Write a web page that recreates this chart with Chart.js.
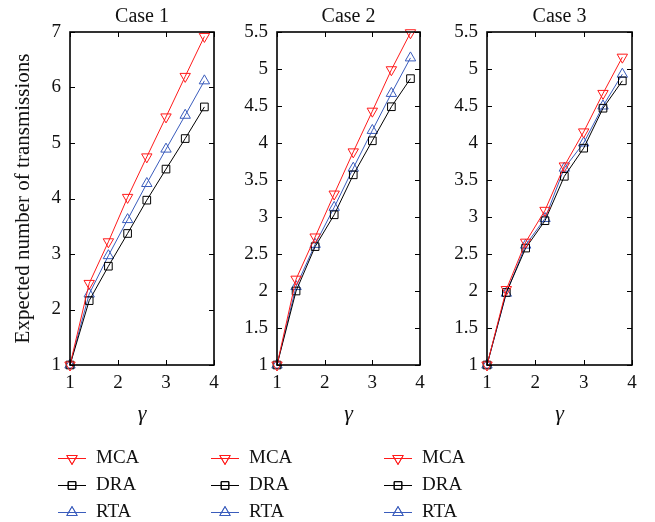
<!DOCTYPE html>
<html>
<head>
<meta charset="utf-8">
<script src="https://cdn.jsdelivr.net/npm/chart.js@4.4.1/dist/chart.umd.min.js"></script>
<style>
  html, body { margin: 0; padding: 0; background: #fff; }
  #wrap { position: relative; width: 655px; height: 522px; }
  #wrap canvas { position: absolute; left: 0; top: 0; }
</style>
</head>
<body>
<div id="wrap">
  <canvas id="c1" width="655" height="522"></canvas>
  <canvas id="c2" width="655" height="522"></canvas>
  <canvas id="c3" width="655" height="522"></canvas>
</div>
<script>
// ---- data ----
const gamma = [1, 1.4, 1.8, 2.2, 2.6, 3.0, 3.4, 3.8];
const seriesNames = ['MCA', 'DRA', 'RTA'];
const panelTitles = ['Case 1', 'Case 2', 'Case 3'];

const case1MCA = [1, 2.47, 3.22, 4.02, 4.75, 5.47, 6.20, 6.92];
const case1DRA = [1, 2.16, 2.78, 3.37, 3.97, 4.53, 5.08, 5.65];
const case1RTA = [1, 2.28, 2.97, 3.62, 4.27, 4.89, 5.50, 6.12];

const case2MCA = [1, 2.16, 2.73, 3.31, 3.88, 4.43, 4.99, 5.49];
const case2DRA = [1, 2.00, 2.60, 3.03, 3.57, 4.03, 4.49, 4.87];
const case2RTA = [1, 2.06, 2.63, 3.13, 3.66, 4.17, 4.67, 5.15];

const case3MCA = [1, 2.02, 2.66, 3.09, 3.69, 4.15, 4.67, 5.16];
const case3DRA = [1, 1.98, 2.58, 2.95, 3.55, 3.93, 4.47, 4.84];
const case3RTA = [1, 1.97, 2.62, 2.98, 3.66, 4.00, 4.50, 4.93];

const xTicks = [1, 2, 3, 4];
const yTicksCase1 = [1, 2, 3, 4, 5, 6, 7];
const yTicksCase23 = [1, 1.5, 2, 2.5, 3, 3.5, 4, 4.5, 5, 5.5];

const yAxisTitle = 'Expected number of transmissions';
const xAxisTitle = 'γ';

// ---- styles ----
const FONT = '"Liberation Serif", "Times New Roman", serif';
const seriesStyle = [
  { color: '#ff1a1a', pointStyle: 'triangle', rotation: 180, radius: 6 },
  { color: '#000000', pointStyle: 'rect', rotation: 0, radius: 5.4 },
  { color: '#3a5cbc', pointStyle: 'triangle', rotation: 0, radius: 6 }
];

function drawMarker(ctx, st, x, y) {
  if (Chart.helpers && Chart.helpers.drawPoint) {
    Chart.helpers.drawPoint(ctx, { pointStyle: st.pointStyle, radius: st.radius, rotation: st.rotation, borderWidth: 1 }, x, y);
    ctx.stroke();
    return;
  }
  ctx.beginPath();
  if (st.pointStyle === 'rect') {
    const s = st.radius * Math.SQRT1_2;
    ctx.rect(x - s, y - s, 2 * s, 2 * s);
  } else {
    let rad = st.rotation * Math.PI / 180;
    for (let i = 0; i < 3; i++) {
      const px = x + Math.sin(rad) * st.radius, py = y - Math.cos(rad) * st.radius;
      if (i === 0) ctx.moveTo(px, py); else ctx.lineTo(px, py);
      rad += 2 * Math.PI / 3;
    }
    ctx.closePath();
  }
  ctx.stroke();
}

const framePlugin = {
  id: 'frame',
  afterDraw(chart, args, opts) {
    const { ctx, chartArea: a, scales } = chart;
    ctx.save();
    ctx.strokeStyle = '#000';
    ctx.lineWidth = 1;
    const tl = 5;
    ctx.beginPath();
    scales.x.ticks.forEach(t => {
      const px = Math.round(scales.x.getPixelForValue(t.value)) + 0.5;
      ctx.moveTo(px, a.bottom); ctx.lineTo(px, a.bottom - tl);
      ctx.moveTo(px, a.top); ctx.lineTo(px, a.top + tl);
    });
    scales.y.ticks.forEach(t => {
      const py = Math.round(scales.y.getPixelForValue(t.value)) + 0.5;
      ctx.moveTo(a.left, py); ctx.lineTo(a.left + tl, py);
      ctx.moveTo(a.right, py); ctx.lineTo(a.right - tl, py);
    });
    ctx.stroke();
    ctx.lineWidth = 1.6;
    ctx.strokeRect(a.left, a.top, a.right - a.left, a.bottom - a.top);

    // panel title
    ctx.fillStyle = '#111';
    ctx.font = '20px ' + FONT;
    ctx.textAlign = 'center';
    ctx.textBaseline = 'middle';
    ctx.fillText(opts.title, (a.left + a.right) / 2, 17);
    ctx.restore();

    // legend
    const lx = opts.x;
    const rows = [458, 485, 512];
    ctx.save();
    ctx.font = '19px ' + FONT;
    ctx.textBaseline = 'middle';
    ctx.textAlign = 'left';
    chart.data.datasets.forEach((ds, i) => {
      const st = seriesStyle[i];
      const y = rows[i];
      ctx.strokeStyle = st.color;
      ctx.lineWidth = 1;
      ctx.beginPath();
      ctx.moveTo(lx, y + 0.5); ctx.lineTo(lx + 28, y + 0.5);
      ctx.stroke();
      ctx.strokeStyle = st.color;
      ctx.fillStyle = 'rgba(0,0,0,0)';
      drawMarker(ctx, st, lx + 14, y + 0.5);
      ctx.fillStyle = '#111';
      ctx.fillText(ds.label, lx + 38, y);
    });
    ctx.restore();
  }
};

function makeChart(id, title, mca, dra, rta, yTicks, yMax, layout, showYTitle, legendX) {
  const vals = [mca, dra, rta];
  const datasets = seriesNames.map((name, i) => ({
    label: name,
    data: gamma.map((g, k) => ({ x: g, y: vals[i][k] })),
    borderColor: seriesStyle[i].color,
    backgroundColor: 'rgba(0,0,0,0)',
    borderWidth: 1,
    pointStyle: seriesStyle[i].pointStyle,
    pointRotation: seriesStyle[i].rotation,
    pointRadius: seriesStyle[i].radius,
    pointBorderWidth: 1,
    pointBorderColor: seriesStyle[i].color,
    pointBackgroundColor: 'rgba(0,0,0,0)',
    tension: 0,
    clip: false
  }));
  return new Chart(document.getElementById(id), {
    type: 'line',
    data: { datasets },
    options: {
      responsive: false,
      animation: false,
      events: [],
      layout: { padding: layout.padding },
      plugins: {
        legend: { display: false },
        tooltip: { enabled: false },
        title: { display: false },
        frame: { x: legendX, title: title }
      },
      scales: {
        x: {
          type: 'linear', min: 1, max: 4,
          grid: { display: false, drawTicks: false },
          border: { display: false },
          afterBuildTicks: s => { s.ticks = xTicks.map(v => ({ value: v })); },
          afterFit: s => { s.height = 62; },
          ticks: { color: '#111', padding: 7, font: { family: FONT, size: 19 }, maxRotation: 0, callback: v => String(v) },
          title: { display: true, text: xAxisTitle, color: '#111', padding: { top: 0, bottom: 0 },
                   font: { family: FONT, size: 22, style: 'italic' } }
        },
        y: {
          type: 'linear', min: 1, max: yMax,
          grid: { display: false, drawTicks: false },
          border: { display: false },
          afterBuildTicks: s => { s.ticks = yTicks.map(v => ({ value: v })); },
          afterFit: s => { s.width = layout.yWidth; },
          ticks: { color: '#111', padding: 9, font: { family: FONT, size: 19 }, callback: v => String(v) },
          title: { display: showYTitle, text: yAxisTitle, color: '#111', padding: 0,
                   font: { family: FONT, size: 21 } }
        }
      }
    },
    plugins: [framePlugin]
  });
}

makeChart('c1', panelTitles[0], case1MCA, case1DRA, case1RTA, yTicksCase1, 7,
  { padding: { left: 11, right: 441, top: 32, bottom: 95 }, yWidth: 59 }, true, 58);
makeChart('c2', panelTitles[1], case2MCA, case2DRA, case2RTA, yTicksCase23, 5.5,
  { padding: { left: 227, right: 235, top: 32, bottom: 95 }, yWidth: 50 }, false, 211);
makeChart('c3', panelTitles[2], case3MCA, case3DRA, case3RTA, yTicksCase23, 5.5,
  { padding: { left: 437, right: 23, top: 32, bottom: 95 }, yWidth: 50 }, false, 384);
</script>
</body>
</html>
